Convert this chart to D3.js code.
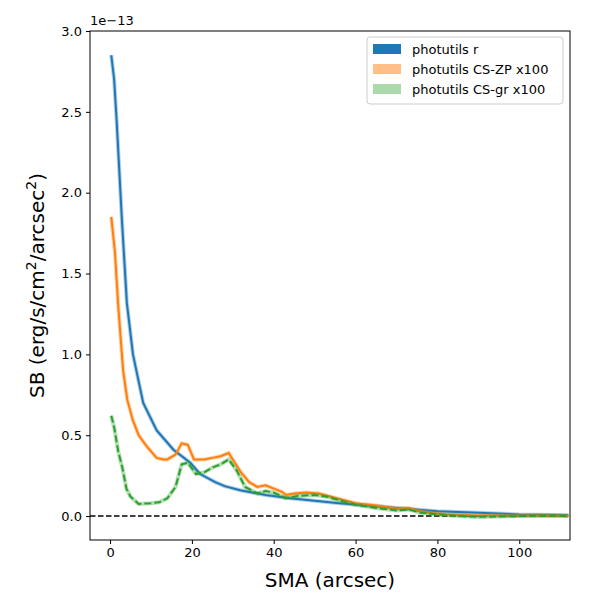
<!DOCTYPE html>
<html><head><meta charset="utf-8">
<script src="https://cdn.jsdelivr.net/npm/d3@7"></script>
<style>body{margin:0;background:#fff}text{font-family:"DejaVu Sans",sans-serif}</style>
</head><body><div id="chart"></div>
<script>
// values in units of 1e-13
const blueX = [0.3,1,1.6,2.9,4.1,5.6,8.1,11.4,15.5,19.6,22,25.7,28,31.8,38,44,50,56,63,70,80,90,100,112];
const blueY = [2.85,2.7,2.45,1.83,1.32,1.0,0.7,0.53,0.41,0.33,0.26,0.21,0.185,0.16,0.13,0.11,0.095,0.08,0.065,0.05,0.03,0.02,0.01,0.005];
const orangeX = [0.3,1.2,2,3.2,4.2,5.6,7,9,11.4,13,14,16,17.5,19,20.5,23,25,27,29,30,32,34,36,38,40,42,43,45,48,51,54,57,60,65,70,73,75,78,82,88,100,108,112];
const orangeY = [1.85,1.63,1.3,0.9,0.72,0.59,0.5,0.43,0.36,0.35,0.35,0.38,0.45,0.44,0.35,0.35,0.36,0.37,0.39,0.35,0.27,0.21,0.18,0.19,0.17,0.15,0.13,0.14,0.145,0.14,0.12,0.1,0.08,0.065,0.045,0.05,0.035,0.02,0.01,0.005,0.002,0.003,0.0];
const greenX = [0.3,1,2,3,4,5,7,10,12,14,16,17.5,19,21,23,25,27,29,31,33,36,38,40,43,46,50,53,57,60,65,70,73,76,80,85,90,100,108,112];
const greenY = [0.62,0.55,0.4,0.3,0.17,0.12,0.075,0.08,0.085,0.11,0.18,0.32,0.33,0.26,0.27,0.3,0.32,0.35,0.28,0.18,0.14,0.155,0.145,0.11,0.125,0.13,0.12,0.09,0.07,0.05,0.035,0.04,0.02,0.01,0.0,-0.005,0.0,0.003,0];
const legendLabels = ["photutils r","photutils CS-ZP x100","photutils CS-gr x100"];
const xTicks = [0,20,40,60,80,100];
const yTicks = [0,0.5,1,1.5,2,2.5,3];

const W = 600, H = 600;
const m = {left: 90, right: 30, top: 31, bottom: 60};
const svg = d3.select("#chart").append("svg").attr("width", W).attr("height", H);
const x = d3.scaleLinear().domain([-4.9, 112.4]).range([m.left, W - m.right]);
const y = d3.scaleLinear().domain([-0.148, 3.0]).range([H - m.bottom, m.top]);

const g = svg.append("g");
const line = d3.line().x(d => x(d[0])).y(d => y(d[1]));
const series = [
  {xs: blueX, ys: blueY, c: "#1f77b4", dash: null},
  {xs: orangeX, ys: orangeY, c: "#ff7f0e", dash: null},
  {xs: greenX, ys: greenY, c: "#2ca02c", dash: "7,3"}
];
g.append("line").attr("x1", m.left).attr("x2", W - m.right)
  .attr("y1", y(0)).attr("y2", y(0)).attr("stroke", "black").attr("stroke-width", 1.5).attr("stroke-dasharray", "5.5,2.5");
series.forEach(s => {
  const pts = s.xs.map((v, i) => [v, s.ys[i]]);
  g.append("path").attr("d", line(pts)).attr("fill", "none").attr("stroke", s.c)
    .attr("stroke-opacity", 0.35).attr("stroke-width", 4);
  g.append("path").attr("d", line(pts)).attr("fill", "none").attr("stroke", s.c)
    .attr("stroke-width", 2).attr("stroke-dasharray", s.dash);
});

svg.append("g").attr("transform", `translate(0,${H - m.bottom})`)
  .call(d3.axisBottom(x).tickValues(xTicks).tickSize(4).tickPadding(4).tickFormat(d3.format("d")))
  .call(a => a.select(".domain").remove())
  .selectAll("text").style("font-size", "13px").attr("fill", "black");
svg.append("g").attr("transform", `translate(${m.left},0)`)
  .call(d3.axisLeft(y).tickValues(yTicks).tickSize(4).tickPadding(4).tickFormat(d3.format(".1f")))
  .call(a => a.select(".domain").remove())
  .selectAll("text").style("font-size", "13px").attr("fill", "black");
svg.append("rect").attr("x", m.left).attr("y", m.top).attr("width", W - m.left - m.right)
  .attr("height", H - m.top - m.bottom).attr("fill", "none").attr("stroke", "black").attr("stroke-width", 1);

svg.append("text").attr("x", m.left).attr("y", 25).style("font-size", "13px").text("1e\u221213");
svg.append("text").attr("x", (m.left + W - m.right) / 2).attr("y", 587).attr("text-anchor", "middle")
  .style("font-size", "20px").text("SMA (arcsec)");
const yl = svg.append("text").attr("transform", `translate(44,${(m.top + H - m.bottom) / 2}) rotate(-90)`)
  .attr("text-anchor", "middle").style("font-size", "20px");
yl.append("tspan").text("SB (erg/s/cm");
yl.append("tspan").attr("dy", -8).style("font-size", "14px").text("2");
yl.append("tspan").attr("dy", 8).text("/arcsec");
yl.append("tspan").attr("dy", -8).style("font-size", "14px").text("2");
yl.append("tspan").attr("dy", 8).text(")");

const lg = svg.append("g").attr("transform", "translate(367,37)");
lg.append("rect").attr("width", 196).attr("height", 67).attr("rx", 3).attr("fill", "white")
  .attr("fill-opacity", 0.8).attr("stroke", "#ccc");
const lc = ["#1f77b4", "#ff7f0e", "#2ca02c"], lo = [1, 0.5, 0.4];
legendLabels.forEach((t, i) => {
  lg.append("rect").attr("x", 6).attr("y", 7 + i * 20).attr("width", 28).attr("height", 10)
    .attr("fill", lc[i]).attr("fill-opacity", lo[i]);
  lg.append("text").attr("x", 45).attr("y", 17 + i * 20).style("font-size", "13px").text(t);
});
</script></body></html>
